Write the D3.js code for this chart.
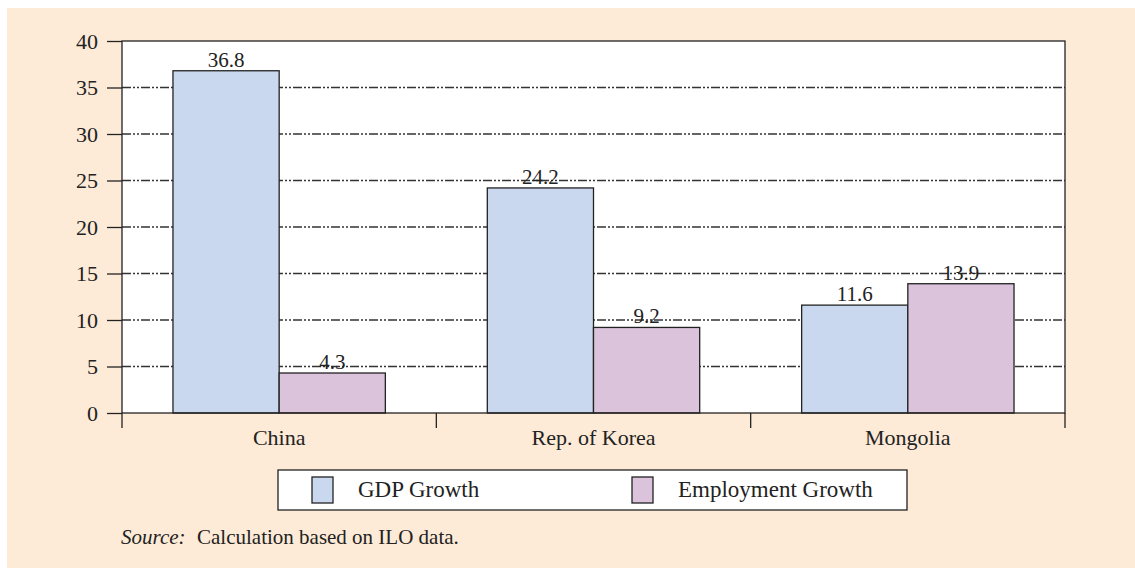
<!DOCTYPE html>
<html>
<head>
<meta charset="utf-8">
<script src="https://cdn.jsdelivr.net/npm/d3@7"></script>
<style>
  body { margin: 0; background: #fff; }
  svg { display: block; }
  text { font-family: "Liberation Serif", "DejaVu Serif", serif; fill: #222; }
</style>
</head>
<body>
<div id="chart"></div>
<script>
const categories = ["China", "Rep. of Korea", "Mongolia"];
const seriesNames = ["GDP Growth", "Employment Growth"];
const gdpGrowth = [36.8, 24.2, 11.6];
const employmentGrowth = [4.3, 9.2, 13.9];
const yTicks = [0, 5, 10, 15, 20, 25, 30, 35, 40];
const colors = ["#c9d8ef", "#dbc3dc"];

const width = 1135, height = 571;
const margin = { top: 41, right: 70, bottom: 158, left: 122 };
const innerW = width - margin.left - margin.right;
const innerH = height - margin.top - margin.bottom;

const svg = d3.select("#chart").append("svg")
  .attr("width", width)
  .attr("height", height);

// peach panel
svg.append("rect")
  .attr("x", 7).attr("y", 8)
  .attr("width", width - 7).attr("height", height - 11)
  .attr("fill", "#fdebd7");

const g = svg.append("g")
  .attr("transform", `translate(${margin.left},${margin.top})`);

const x0 = d3.scaleBand().domain(categories).range([0, innerW]).paddingInner(0).paddingOuter(0);
const x1 = d3.scaleBand().domain(seriesNames).range([0, x0.bandwidth()]).paddingOuter(0.48).paddingInner(0);
const y = d3.scaleLinear().domain([0, 40]).range([innerH, 0]);

g.append("rect")
  .attr("width", innerW).attr("height", innerH)
  .attr("fill", "#fff");

// dash-dot-dot gridlines
g.selectAll(".grid")
  .data(yTicks.filter(t => t > 0 && t < 40))
  .enter().append("line")
  .attr("class", "grid")
  .attr("x1", 0).attr("x2", innerW)
  .attr("y1", d => y(d)).attr("y2", d => y(d))
  .attr("stroke", "#333")
  .attr("stroke-width", 1.3)
  .attr("stroke-dasharray", "9,2,2,2,2,2");

const rows = categories.map((c, i) => ({
  cat: c,
  vals: [
    { key: seriesNames[0], value: gdpGrowth[i], color: colors[0] },
    { key: seriesNames[1], value: employmentGrowth[i], color: colors[1] }
  ]
}));

const groups = g.selectAll(".bar-group")
  .data(rows)
  .enter().append("g")
  .attr("class", "bar-group")
  .attr("transform", d => `translate(${x0(d.cat)},0)`);

groups.selectAll("rect")
  .data(d => d.vals)
  .enter().append("rect")
  .attr("x", d => x1(d.key))
  .attr("width", x1.bandwidth())
  .attr("y", d => y(d.value))
  .attr("height", d => innerH - y(d.value))
  .attr("fill", d => d.color)
  .attr("stroke", "#222")
  .attr("stroke-width", 1.3);

groups.selectAll(".val")
  .data(d => d.vals)
  .enter().append("text")
  .attr("class", "val")
  .attr("x", d => x1(d.key) + x1.bandwidth() / 2)
  .attr("y", d => y(d.value) - 4)
  .attr("text-anchor", "middle")
  .attr("font-size", 21)
  .text(d => d.value.toFixed(1));

// frame
g.append("rect")
  .attr("width", innerW).attr("height", innerH)
  .attr("fill", "none")
  .attr("stroke", "#222")
  .attr("stroke-width", 1.3);

// y axis
const yAxis = g.append("g")
  .call(d3.axisLeft(y).tickValues(yTicks).tickSize(15).tickPadding(9));
yAxis.select(".domain").remove();
yAxis.selectAll(".tick line").attr("stroke", "#222").attr("stroke-width", 1.3);
yAxis.selectAll(".tick text").attr("font-size", 22).attr("fill", "#222")
  .style("font-family", '"Liberation Serif", serif');

// x axis: boundary ticks
const boundaries = categories.map(c => x0(c)).concat([innerW]);
g.selectAll(".xtick")
  .data(boundaries)
  .enter().append("line")
  .attr("x1", d => d).attr("x2", d => d)
  .attr("y1", innerH).attr("y2", innerH + 15)
  .attr("stroke", "#222").attr("stroke-width", 1.3);

g.selectAll(".xlabel")
  .data(categories)
  .enter().append("text")
  .attr("x", d => x0(d) + x0.bandwidth() / 2)
  .attr("y", innerH + 32)
  .attr("text-anchor", "middle")
  .attr("font-size", 22)
  .text(d => d);

// legend
const legend = svg.append("g").attr("transform", "translate(278,470)");
legend.append("rect")
  .attr("width", 629).attr("height", 40)
  .attr("fill", "#fff").attr("stroke", "#222").attr("stroke-width", 1.3);
const legendItems = legend.selectAll(".li")
  .data(seriesNames)
  .enter().append("g")
  .attr("transform", (d, i) => `translate(${34 + i * 320},7)`);
legendItems.append("rect")
  .attr("width", 21).attr("height", 26)
  .attr("fill", (d, i) => colors[i])
  .attr("stroke", "#222").attr("stroke-width", 1.3);
legendItems.append("text")
  .attr("x", 46).attr("y", 20)
  .attr("font-size", 23)
  .text(d => d);

// source
const src = svg.append("text").attr("x", 121).attr("y", 544).attr("font-size", 21);
src.append("tspan").attr("font-style", "italic").text("Source:");
src.append("tspan").attr("x", 197).text("Calculation based on ILO data.");
</script>
</body>
</html>
